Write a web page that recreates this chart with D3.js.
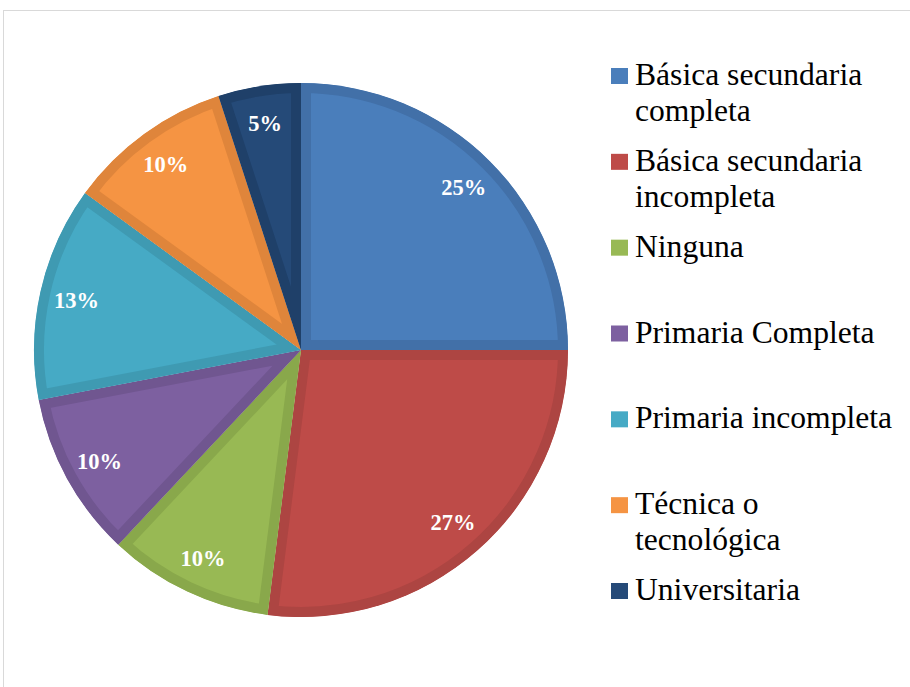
<!DOCTYPE html>
<html>
<head>
<meta charset="utf-8">
<script src="https://cdn.jsdelivr.net/npm/d3@7"></script>
<style>
  body { margin: 0; background: #fff; }
  svg { display: block; }
</style>
</head>
<body>
<div id="chart"></div>
<script>
const categories = [
  'Básica secundaria completa',
  'Básica secundaria incompleta',
  'Ninguna',
  'Primaria Completa',
  'Primaria incompleta',
  'Técnica o tecnológica',
  'Universitaria'
];
const values = [25, 27, 10, 10, 13, 10, 5];
const legendLines = [
  ['Básica secundaria', 'completa'],
  ['Básica secundaria', 'incompleta'],
  ['Ninguna'],
  ['Primaria Completa'],
  ['Primaria incompleta'],
  ['Técnica o', 'tecnológica'],
  ['Universitaria']
];
const colors = ['#4a7ebb', '#be4b48', '#98b954', '#7d60a0', '#46aac5', '#f59443', '#254a78'];
const edges = ['#4270a8', '#ad4542', '#89a84b', '#705690', '#3f9ab2', '#df853b', '#1f4069'];

const width = 910, height = 687;
const cx = 301, cy = 350, r = 267;

const svg = d3.select('#chart').append('svg')
  .attr('width', width)
  .attr('height', height);

// chart frame (only top and left edges fall inside the picture)
svg.append('rect')
  .attr('x', 3.5).attr('y', 10.5)
  .attr('width', 1200).attr('height', 1200)
  .attr('fill', 'none')
  .attr('stroke', '#d9d9d9')
  .attr('stroke-width', 1);

const pie = d3.pie().sort(null).value(d => d);
const arcs = pie(values);
const arc = d3.arc().innerRadius(0).outerRadius(r);
const labelArc = d3.arc().innerRadius(230).outerRadius(230);

const defs = svg.append('defs');
const g = svg.append('g').attr('transform', `translate(${cx},${cy})`);

arcs.forEach((a, i) => {
  defs.append('clipPath').attr('id', 'clip' + i)
    .append('path').attr('d', arc(a));
});

// slice with an inner darker band
g.selectAll('path.slice')
  .data(arcs)
  .join('path')
  .attr('class', 'slice')
  .attr('d', arc)
  .attr('fill', (d, i) => colors[i])
  .attr('stroke', (d, i) => edges[i])
  .attr('stroke-width', 20)
  .attr('stroke-linejoin', 'miter')
  .attr('clip-path', (d, i) => `url(#clip${i})`);

g.selectAll('text.pct')
  .data(arcs)
  .join('text')
  .attr('class', 'pct')
  .attr('transform', d => `translate(${labelArc.centroid(d)})`)
  .attr('text-anchor', 'middle')
  .attr('dy', '0.35em')
  .attr('fill', '#fff')
  .style('font-family', '"Liberation Serif", "Times New Roman", serif')
  .style('font-weight', 'bold')
  .style('font-size', '22.5px')
  .text(d => d.value + '%');

// legend
const legendY = d3.scaleLinear().domain([0, categories.length - 1]).range([85, 600]);
const legend = svg.append('g');
const items = legend.selectAll('g.item')
  .data(categories)
  .join('g')
  .attr('class', 'item')
  .attr('transform', (d, i) => `translate(0,${legendY(i)})`);

items.append('rect')
  .attr('x', 611).attr('y', -17)
  .attr('width', 17).attr('height', 16)
  .attr('fill', (d, i) => colors[i]);

items.append('text')
  .attr('x', 635)
  .attr('y', 0)
  .attr('fill', '#000')
  .style('font-family', '"Liberation Serif", "Times New Roman", serif')
  .style('font-size', '31.6px')
  .selectAll('tspan')
  .data((d, i) => legendLines[i])
  .join('tspan')
  .attr('x', 635)
  .attr('dy', (d, j) => j === 0 ? 0 : 36)
  .text(d => d);
</script>
</body>
</html>
